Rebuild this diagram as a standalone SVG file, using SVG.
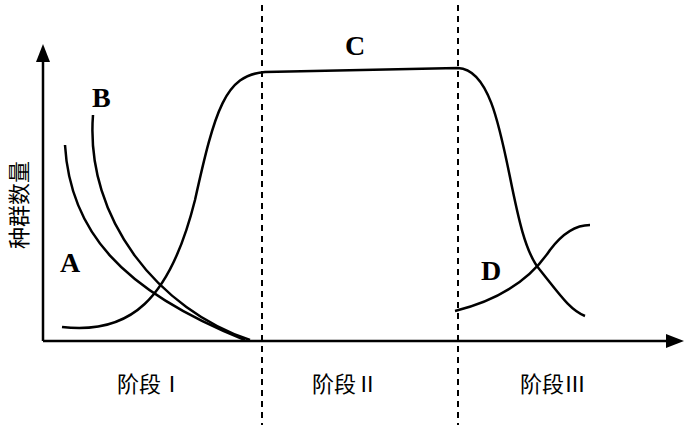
<svg xmlns="http://www.w3.org/2000/svg" width="690" height="431" viewBox="0 0 690 431">
<style>
.c{fill:none;stroke:#000;stroke-width:2.5}
.d{stroke:#000;stroke-width:2;stroke-dasharray:6,5}
.l{font-family:"Liberation Serif",serif;font-size:28px;font-weight:bold}
.t{font-family:"Liberation Serif","Noto Sans CJK SC",serif;font-size:22px}
</style>
<rect width="690" height="431" fill="#fff"/>
<g id="axes">
<line x1="43" y1="341" x2="670" y2="341" stroke="#000" stroke-width="2.5"/>
<polygon points="684,341 666,334 666,348"/>
<line x1="43" y1="341" x2="43" y2="60" stroke="#000" stroke-width="2.5"/>
<polygon points="43,44 36,62 50,62"/>
</g>
<g id="dividers">
<line class="d" x1="262" y1="5" x2="262" y2="425"/>
<line class="d" x1="458" y1="5" x2="458" y2="425"/>
</g>
<g id="connectors">
<path id="A" class="c" d="M65,145 C70,230 120,290 245,340"/>
<path id="B" class="c" d="M93,115 C85,220 160,310 250,340"/>
<path id="C" class="c" d="M62,327 C130,335 170,300 195,200 C215,110 225,75 265,72 L458,68 C510,70 505,230 540,270 C560,295 570,310 585,316"/>
<path id="D" class="c" d="M455,311 C500,300 530,280 550,250 C565,230 578,225 590,225"/>
</g>
<g id="labels">
<text class="l" x="60" y="272">A</text>
<text class="l" x="92" y="107">B</text>
<text class="l" x="345" y="55">C</text>
<text class="l" x="481" y="280">D</text>
<text class="t" transform="translate(27,205) rotate(-90)" text-anchor="middle">种群数量</text>
<text class="t" x="150" y="392" text-anchor="middle">阶段Ⅰ</text>
<text class="t" x="345" y="392" text-anchor="middle">阶段Ⅱ</text>
<text class="t" x="553" y="392" text-anchor="middle">阶段Ⅲ</text>
</g>
</svg>
